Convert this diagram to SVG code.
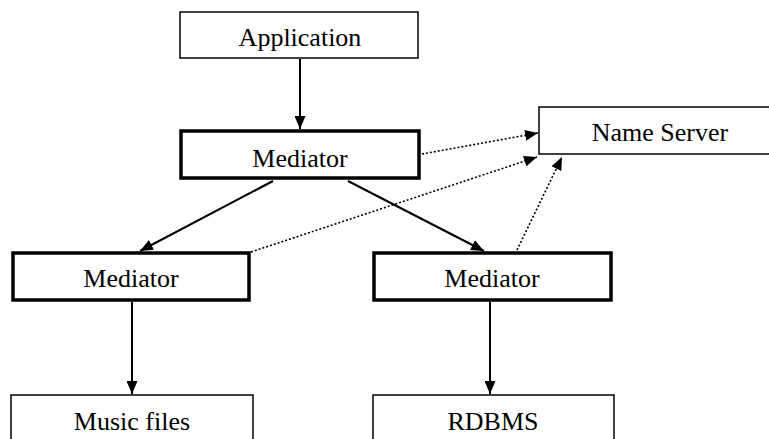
<svg xmlns="http://www.w3.org/2000/svg" width="769" height="439" viewBox="0 0 769 439">
<style>
  .box { fill: #fff; stroke: #000; stroke-width: 1.5; }
  .thick { fill: #fff; stroke: #000; stroke-width: 3.5; }
  text { font-family: 'Liberation Serif', 'Times New Roman', serif; font-size: 26px; text-anchor: middle; fill: #000; }
  .solid { stroke: #000; stroke-width: 2; fill: none; marker-end: url(#ah); }
  .dot { stroke: #000; stroke-width: 1.6; stroke-dasharray: 2 2; fill: none; marker-end: url(#ah); }
</style>
<defs>
  <marker id="ah" markerUnits="userSpaceOnUse" markerWidth="13" markerHeight="11" refX="13" refY="5.5" orient="auto">
    <path d="M0,0 L13,5.5 L0,11 z" fill="#000"/>
  </marker>
</defs>
<rect width="769" height="439" fill="#fff"/>
<g id="connectors">
  <line class="solid" x1="300" y1="59" x2="300" y2="129"/>
  <line class="solid" x1="273" y1="181" x2="140" y2="251"/>
  <line class="solid" x1="348" y1="181" x2="484" y2="251"/>
  <line class="solid" x1="132" y1="302" x2="132" y2="394"/>
  <line class="solid" x1="490" y1="302" x2="490" y2="394"/>
  <line class="dot" x1="422" y1="154" x2="538" y2="133"/>
  <line class="dot" x1="251" y1="252" x2="537" y2="157"/>
  <line class="dot" x1="517" y1="250" x2="562" y2="157"/>
</g>
<g id="application">
  <rect class="box" x="180" y="12" width="238" height="46"/>
  <text x="300" y="46">Application</text>
</g>
<g id="mediator-top">
  <rect class="thick" x="181" y="131" width="238" height="47"/>
  <text x="300" y="167">Mediator</text>
</g>
<g id="name-server">
  <rect class="box" x="539" y="107" width="232" height="47"/>
  <text x="660" y="141">Name Server</text>
</g>
<g id="mediator-left">
  <rect class="thick" x="13" y="253" width="236" height="47"/>
  <text x="131" y="287">Mediator</text>
</g>
<g id="mediator-right">
  <rect class="thick" x="374" y="253" width="237" height="47"/>
  <text x="492" y="287">Mediator</text>
</g>
<g id="music-files">
  <rect class="box" x="11" y="395" width="242" height="60"/>
  <text x="132" y="430">Music files</text>
</g>
<g id="rdbms">
  <rect class="box" x="373" y="395" width="241" height="60"/>
  <text x="493" y="430">RDBMS</text>
</g>
</svg>
